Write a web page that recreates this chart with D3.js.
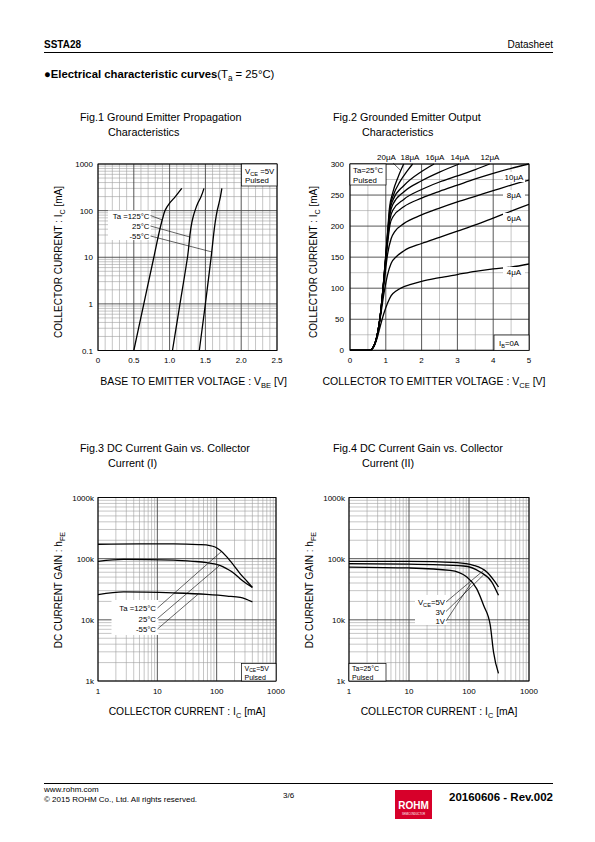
<!DOCTYPE html>
<html><head><meta charset="utf-8">
<script src="https://cdnjs.cloudflare.com/ajax/libs/d3/7.8.5/d3.min.js"></script>
<style>
body{margin:0;background:#fff}
svg{display:block}
text{font-family:"Liberation Sans",Arial,sans-serif;fill:#000}
</style>
</head><body>
<svg id="page" width="595" height="842"></svg>
<script>
// ---------------- DATA ----------------
// Fig.1 Ground emitter propagation characteristics (Ic in mA vs Vbe in V)
const fig1Ic      = [0.1, 1, 10, 75, 100, 145, 200, 300];
const fig1Vbe125  = [0.50, 0.64, 0.78, 0.91, 0.935, 1.00, 1.08, 1.17];
const fig1Vbe25   = [1.04, 1.145, 1.25, 1.33, 1.355, 1.395, 1.44, 1.48];
const fig1VbeM55  = [1.415, 1.50, 1.58, 1.65, 1.665, 1.69, 1.71, 1.73];
const fig1Labels  = ["Ta =125°C", "25°C", "-55°C"];
const fig1LeaderIc = [63, 27, 13];
const fig1XTicks  = [0, 0.5, 1.0, 1.5, 2.0, 2.5];
const fig1XTickLabels = ["0", "0.5", "1.0", "1.5", "2.0", "2.5"];
const fig1YTicks  = [0.1, 1, 10, 100, 1000];
const fig1YTickLabels = ["0.1", "1", "10", "100", "1000"];

// Fig.2 Grounded emitter output characteristics (Ic mA vs Vce V)
const fig2IbLabels = ["4μA", "6μA", "8μA", "10μA", "12μA", "14μA", "16μA", "18μA", "20μA"];
const fig2V4  = [0,0.55,0.65,0.75,0.85,0.95,1.05,1.15,1.3,1.45,1.7,2,2.5,3,3.5,4,4.5,5];
const fig2I4  = [0,0,4,18,40,60,76,88,96,101,106,111,117,122,127,131,134,139];
const fig2V6  = [0,0.55,0.65,0.75,0.85,0.95,1.05,1.15,1.3,1.5,2,2.5,3,3.5,4,4.5,5];
const fig2I6  = [0,0,5,21,54,92,122,140,151,160,172,182,192,202,213,224,235];
const fig2V8  = [0,0.55,0.65,0.75,0.85,0.95,1.05,1.15,1.25,1.5,2,2.5,3,3.5,4,4.5,5];
const fig2I8  = [0,0,5,22,57,108,155,180,191,204,218,229,239,248,257,266,274];
const fig2V10 = [0,0.55,0.65,0.75,0.85,0.95,1.05,1.12,1.2,1.5,2,2.5,3,3.5,4,4.5,5];
const fig2I10 = [0,0,5,22,58,113,172,203,215,231,245,256,266,276,285,293,300];
const fig2V12 = [0,0.55,0.65,0.75,0.85,0.95,1.05,1.12,1.2,1.5,2,2.5,3,3.5,3.9];
const fig2I12 = [0,0,5,22,58,115,178,212,226,243,259,271,281,291,300];
const fig2V14 = [0,0.55,0.65,0.75,0.85,0.95,1.05,1.12,1.2,1.5,2,2.5,3.05];
const fig2I14 = [0,0,5,22,58,116,182,220,235,255,273,287,300];
const fig2V16 = [0,0.55,0.65,0.75,0.85,0.95,1.05,1.12,1.2,1.5,2,2.35];
const fig2I16 = [0,0,5,22,58,117,185,226,242,265,288,300];
const fig2V18 = [0,0.55,0.65,0.75,0.85,0.95,1.05,1.12,1.2,1.4,1.6,1.75];
const fig2I18 = [0,0,5,22,58,118,188,231,248,272,289,300];
const fig2V20 = [0,0.55,0.65,0.75,0.85,0.95,1.05,1.1,1.2,1.35,1.5];
const fig2I20 = [0,0,5,22,58,119,190,228,255,280,300];
const fig2XTicks = [0, 1, 2, 3, 4, 5];
const fig2YTicks = [0, 50, 100, 150, 200, 250, 300];

// Fig.3 DC current gain vs collector current (I) - temperature
const fig3Ic125  = [1, 5, 18.6, 50, 77, 94, 113, 147, 190, 248, 330, 400];
const fig3Hfe125 = [172e3, 175e3, 175e3, 170e3, 164e3, 155e3, 138e3, 108e3, 80e3, 57e3, 42e3, 34e3];
const fig3Ic25   = [1, 2.7, 18.6, 40, 68, 113, 147, 190, 248, 320, 400];
const fig3Hfe25  = [90.6e3, 97.5e3, 95e3, 90.6e3, 86e3, 77.8e3, 68.6e3, 59e3, 47e3, 39e3, 34e3];
const fig3IcM55  = [1, 2.7, 18.6, 68, 150, 250, 400];
const fig3HfeM55 = [25.9e3, 28.6e3, 27.5e3, 26e3, 24.5e3, 23.2e3, 19.6e3];
const fig3Labels = ["Ta =125°C", "25°C", "-55°C"];
const fig3LeaderIc = [120, 113, 49];

// Fig.4 DC current gain vs collector current (II) - Vce
const fig4Ic5  = [1, 10, 63, 119, 198, 270, 310];
const fig4Hfe5 = [90.5e3, 90.5e3, 86e3, 77.8e3, 60.5e3, 42e3, 34.4e3];
const fig4Ic3  = [1, 10, 81, 154, 240, 310];
const fig4Hfe3 = [83e3, 81.5e3, 75.9e3, 60.5e3, 41.5e3, 25.2e3];
const fig4Ic1  = [1, 10, 48.6, 92, 134, 175, 226, 256, 310];
const fig4Hfe1 = [73e3, 70.5e3, 64.3e3, 50e3, 32.4e3, 17.3e3, 8.2e3, 3.0e3, 1.33e3];
const fig4LeaderIc = [175, 175, 110];

const hfeTicks = [1e3, 1e4, 1e5, 1e6];
const hfeTickLabels = ["1k", "10k", "100k", "1000k"];
const icTicks = [1, 10, 100, 1000];
const icTickLabels = ["1", "10", "100", "1000"];

// ---------------- HELPERS ----------------
const svg = d3.select("#page");
svg.append("rect").attr("width", 595).attr("height", 842).attr("fill", "#fff");

function rich(parent, x, y, parts, o) {
  const size = o.size || 10;
  const sh = o.shift != null ? o.shift : 0.28;
  const t = parent.append("text").attr("x", x).attr("y", y)
    .attr("font-size", size).attr("text-anchor", o.anchor || "start");
  if (o.weight) t.attr("font-weight", o.weight);
  if (o.rotate) t.attr("transform", `rotate(-90 ${x} ${y})`);
  let shifted = false;
  parts.forEach(p => {
    const [s, kind] = typeof p === "string" ? [p, null] : p;
    const ts = t.append("tspan").text(s);
    if (kind === "sub") {
      ts.attr("font-size", size * 0.72);
      if (!shifted) ts.attr("dy", size * sh);
      shifted = true;
    } else {
      if (shifted) ts.attr("dy", -size * sh);
      shifted = false;
      if (kind === "b") ts.attr("font-weight", "bold");
    }
  });
  return t;
}

function gridLines(g, x, y, vx, vy) {
  const [x0, x1] = x.range(); const [y0, y1] = y.range();
  const minor = g.append("g"), major = g.append("g");
  vx.forEach(d => (d.major ? major : minor).append("line")
    .attr("x1", x(d.v)).attr("x2", x(d.v)).attr("y1", y0).attr("y2", y1)
    .attr("stroke", d.major ? "#444" : "#a0a0a0").attr("stroke-width", d.major ? 0.9 : 0.6));
  vy.forEach(d => (d.major ? major : minor).append("line")
    .attr("x1", x0).attr("x2", x1).attr("y1", y(d.v)).attr("y2", y(d.v))
    .attr("stroke", d.major ? "#444" : "#a0a0a0").attr("stroke-width", d.major ? 0.9 : 0.6));
  g.append("rect").attr("x", Math.min(x0, x1)).attr("y", Math.min(y0, y1))
    .attr("width", Math.abs(x1 - x0)).attr("height", Math.abs(y1 - y0))
    .attr("fill", "none").attr("stroke", "#000").attr("stroke-width", 0.9);
}
function logGrid(domain) {
  const out = [];
  for (let d = domain[0]; d < domain[1] * 0.999; d *= 10)
    for (let k = 1; k <= 9; k++) out.push({ v: d * k, major: k === 1 });
  out.push({ v: domain[1], major: true });
  return out;
}
function interpLog(xs, ys, xv, logX, logY) {
  const fx = logX ? Math.log10 : (v => v), fy = logY ? Math.log10 : (v => v);
  const gy = logY ? (v => Math.pow(10, v)) : (v => v);
  for (let i = 0; i < xs.length - 1; i++) {
    if (xv >= xs[i] && xv <= xs[i + 1]) {
      const t = (fx(xv) - fx(xs[i])) / (fx(xs[i + 1]) - fx(xs[i]));
      return gy(fy(ys[i]) + t * (fy(ys[i + 1]) - fy(ys[i])));
    }
  }
  return ys[ys.length - 1];
}
const curveStroke = 1.3;

// ---------------- PAGE HEADER ----------------
rich(svg, 44, 48, [["SSTA28", "b"]], { size: 10 });
rich(svg, 553, 48, ["Datasheet"], { size: 10, anchor: "end" });
svg.append("line").attr("x1", 44).attr("x2", 553).attr("y1", 52.5).attr("y2", 52.5).attr("stroke", "#000").attr("stroke-width", 1);
rich(svg, 44, 77.5, [["●", "b"], ["Electrical characteristic curves", "b"], "(T", ["a", "sub"], " = 25°C)"], { size: 11.3 });

// ---------------- FIG.1 ----------------
{
  const g = svg.append("g");
  const x = d3.scaleLinear().domain([0, 2.5]).range([98, 277]);
  const y = d3.scaleLog().domain([0.1, 1000]).range([350.5, 164]);
  const vx = d3.range(0, 26).map(i => ({ v: i / 10, major: i % 5 === 0 }));
  gridLines(g, x, y, vx, logGrid([0.1, 1000]));
  rich(g, 80, 121, ["Fig.1 Ground Emitter Propagation"], { size: 10.8 });
  rich(g, 108, 136, ["Characteristics"], { size: 10.8 });
  fig1YTicks.forEach((v, i) => rich(g, 93, y(v) + 3, [fig1YTickLabels[i]], { size: 8, anchor: "end" }));
  fig1XTicks.forEach((v, i) => rich(g, x(v), 363, [fig1XTickLabels[i]], { size: 8, anchor: "middle" }));
  rich(g, 193.5, 385, ["BASE TO EMITTER VOLTAGE : V", ["BE", "sub"], " [V]"], { size: 10.5, anchor: "middle" });
  rich(g, 62, 262, ["COLLECTOR CURRENT : I", ["C", "sub"], " [mA]"], { size: 10, anchor: "middle", rotate: true });
  const line = d3.line().x(d => x(d[0])).y(d => y(d[1])).curve(d3.curveMonotoneY);
  const series = [fig1Vbe125, fig1Vbe25, fig1VbeM55];
  series.forEach(vs => g.append("path").attr("d", line(vs.map((v, i) => [v, fig1Ic[i]])))
    .attr("fill", "none").attr("stroke", "#000").attr("stroke-width", curveStroke));
  g.append("rect").attr("x", 108).attr("y", 210.5).attr("width", 43).attr("height", 29.5).attr("fill", "#fff");
  const ly = [218.5, 229, 239];
  fig1Labels.forEach((s, i) => rich(g, 149.5, ly[i], [s], { size: 7.8, anchor: "end" }));
  fig1LeaderIc.forEach((ic, i) => {
    const vbe = interpLog(fig1Ic, series[i], ic, true, false);
    g.append("line").attr("x1", 150.5).attr("y1", ly[i] - 3).attr("x2", x(vbe)).attr("y2", y(ic))
      .attr("stroke", "#000").attr("stroke-width", 0.6);
  });
  g.append("rect").attr("x", 241.5).attr("y", 164).attr("width", 35.5).attr("height", 22).attr("fill", "#fff").attr("stroke", "#000").attr("stroke-width", 0.7);
  rich(g, 245, 173.5, ["V", ["CE", "sub"], " =5V"], { size: 7.8 });
  rich(g, 245, 183, ["Pulsed"], { size: 7.8 });
}

// ---------------- FIG.2 ----------------
{
  const g = svg.append("g");
  const x = d3.scaleLinear().domain([0, 5]).range([350, 529]);
  const y = d3.scaleLinear().domain([0, 300]).range([350.3, 164]);
  const vx = d3.range(0, 11).map(i => ({ v: i / 2, major: i % 2 === 0 }));
  const vy = d3.range(0, 13).map(i => ({ v: i * 25, major: i % 2 === 0 }));
  gridLines(g, x, y, vx, vy);
  rich(g, 333, 121, ["Fig.2 Grounded Emitter Output"], { size: 10.8 });
  rich(g, 362, 136, ["Characteristics"], { size: 10.8 });
  fig2YTicks.forEach(v => rich(g, 344, y(v) + 3, [String(v)], { size: 8, anchor: "end" }));
  fig2XTicks.forEach(v => rich(g, x(v), 363, [String(v)], { size: 8, anchor: "middle" }));
  rich(g, 434, 385, ["COLLECTOR TO EMITTER VOLTAGE : V", ["CE", "sub"], " [V]"], { size: 10.5, anchor: "middle" });
  rich(g, 317, 262, ["COLLECTOR CURRENT : I", ["C", "sub"], " [mA]"], { size: 10, anchor: "middle", rotate: true });
  const line = d3.line().x(d => x(d[0])).y(d => y(d[1])).curve(d3.curveMonotoneX);
  const Vs = [fig2V4, fig2V6, fig2V8, fig2V10, fig2V12, fig2V14, fig2V16, fig2V18, fig2V20];
  const Is = [fig2I4, fig2I6, fig2I8, fig2I10, fig2I12, fig2I14, fig2I16, fig2I18, fig2I20];
  g.append("clipPath").attr("id", "c2").append("rect").attr("x", 350).attr("y", 163).attr("width", 179).attr("height", 188);
  Vs.forEach((vs, k) => g.append("path").attr("clip-path", "url(#c2)")
    .attr("d", line(vs.map((v, i) => [v, Is[k][i]])))
    .attr("fill", "none").attr("stroke", "#000").attr("stroke-width", curveStroke));
  const rightY = [275, 221, 198, 180];
  [0, 1, 2, 3].forEach((k, j) => {
    g.append("rect").attr("x", 503).attr("y", rightY[j] - 8).attr("width", 22).attr("height", 10).attr("fill", "#fff");
    rich(g, 514, rightY[j], [fig2IbLabels[k]], { size: 8, anchor: "middle" });
  });
  const topX = [490, 460, 435, 410, 386.5];
  [4, 5, 6, 7, 8].forEach((k, j) => rich(g, topX[j], 160, [fig2IbLabels[k]], { size: 8, anchor: "middle" }));
  const i20 = interpLog(fig2V20, fig2I20, 1.42, false, false);
  g.append("line").attr("x1", 393).attr("y1", 163).attr("x2", x(1.42)).attr("y2", y(i20)).attr("stroke", "#000").attr("stroke-width", 0.6);
  g.append("rect").attr("x", 350).attr("y", 164).attr("width", 36).attr("height", 21).attr("fill", "#fff").attr("stroke", "#000").attr("stroke-width", 0.7);
  rich(g, 353, 173, ["Ta=25°C"], { size: 7.8 });
  rich(g, 353, 182.5, ["Pulsed"], { size: 7.8 });
  g.append("rect").attr("x", 494).attr("y", 335).attr("width", 35).attr("height", 15.3).attr("fill", "#fff").attr("stroke", "#000").attr("stroke-width", 0.7);
  rich(g, 499, 345.5, ["I", ["B", "sub"], "=0A"], { size: 7.8 });
}

// ---------------- FIG.3 / FIG.4 common ----------------
function hfeChart(x0, x1, title1, title2, tx, tx2) {
  const g = svg.append("g");
  const x = d3.scaleLog().domain([1, 1000]).range([x0, x1]);
  const y = d3.scaleLog().domain([1e3, 1e6]).range([681, 497.5]);
  gridLines(g, x, y, logGrid([1, 1000]), logGrid([1e3, 1e6]));
  rich(g, tx, 452, [title1], { size: 10.8 });
  rich(g, tx2, 467, [title2], { size: 10.8 });
  hfeTicks.forEach((v, i) => rich(g, x0 - 4, y(v) + 3, [hfeTickLabels[i]], { size: 8, anchor: "end" }));
  icTicks.forEach((v, i) => rich(g, x(v), 694, [icTickLabels[i]], { size: 8, anchor: "middle" }));
  rich(g, (x0 + x1) / 2, 715, ["COLLECTOR CURRENT : I", ["C", "sub"], " [mA]"], { size: 10.3, anchor: "middle" });
  rich(g, x0 - 36, 590, ["DC CURRENT GAIN : h", ["FE", "sub"]], { size: 10, anchor: "middle", rotate: true });
  return { g, x, y };
}

// ---------------- FIG.3 ----------------
{
  const { g, x, y } = hfeChart(98, 276, "Fig.3 DC Current Gain vs. Collector", "Current (I)", 80, 108);
  const line = d3.line().x(d => x(d[0])).y(d => y(d[1])).curve(d3.curveMonotoneX);
  const ics = [fig3Ic125, fig3Ic25, fig3IcM55], hs = [fig3Hfe125, fig3Hfe25, fig3HfeM55];
  ics.forEach((ic, k) => g.append("path").attr("d", line(ic.map((c, i) => [c, hs[k][i]])))
    .attr("fill", "none").attr("stroke", "#000").attr("stroke-width", curveStroke));
  g.append("rect").attr("x", 111.5).attr("y", 600).attr("width", 47).attr("height", 35).attr("fill", "#fff");
  const ly = [611, 621.5, 632];
  fig3Labels.forEach((s, i) => rich(g, 156, ly[i], [s], { size: 7.8, anchor: "end" }));
  fig3LeaderIc.forEach((ic, i) => {
    const h = interpLog(ics[i], hs[i], ic, true, true);
    g.append("line").attr("x1", 157.5).attr("y1", ly[i] - 3).attr("x2", x(ic)).attr("y2", y(h))
      .attr("stroke", "#000").attr("stroke-width", 0.6);
  });
  g.append("rect").attr("x", 241.5).attr("y", 663.5).attr("width", 34.5).attr("height", 17.5).attr("fill", "#fff").attr("stroke", "#000").attr("stroke-width", 0.7);
  rich(g, 244.5, 670.5, ["V", ["CE", "sub"], "=5V"], { size: 7, shift: 0.18 });
  rich(g, 244.5, 679.8, ["Pulsed"], { size: 7 });
}

// ---------------- FIG.4 ----------------
{
  const { g, x, y } = hfeChart(349, 529, "Fig.4 DC Current Gain vs. Collector", "Current (II)", 333, 362);
  const line = d3.line().x(d => x(d[0])).y(d => y(d[1])).curve(d3.curveMonotoneX);
  const ics = [fig4Ic5, fig4Ic3, fig4Ic1], hs = [fig4Hfe5, fig4Hfe3, fig4Hfe1];
  ics.forEach((ic, k) => g.append("path").attr("d", line(ic.map((c, i) => [c, hs[k][i]])))
    .attr("fill", "none").attr("stroke", "#000").attr("stroke-width", curveStroke));
  g.append("rect").attr("x", 415).attr("y", 595).attr("width", 32).attr("height", 30).attr("fill", "#fff");
  const ly = [605, 614.5, 624];
  rich(g, 445, ly[0], ["V", ["CE", "sub"], "=5V"], { size: 7.8, anchor: "end" });
  rich(g, 445, ly[1], ["3V"], { size: 7.8, anchor: "end" });
  rich(g, 445, ly[2], ["1V"], { size: 7.8, anchor: "end" });
  fig4LeaderIc.forEach((ic, i) => {
    const h = interpLog(ics[i], hs[i], ic, true, true);
    g.append("line").attr("x1", 446).attr("y1", ly[i] - 3).attr("x2", x(ic)).attr("y2", y(h))
      .attr("stroke", "#000").attr("stroke-width", 0.6);
  });
  g.append("rect").attr("x", 349).attr("y", 663.5).attr("width", 37).attr("height", 17.5).attr("fill", "#fff").attr("stroke", "#000").attr("stroke-width", 0.7);
  rich(g, 352, 670.5, ["Ta=25°C"], { size: 7 });
  rich(g, 352, 679.8, ["Pulsed"], { size: 7 });
}

// ---------------- FOOTER ----------------
svg.append("line").attr("x1", 44).attr("x2", 553).attr("y1", 783.5).attr("y2", 783.5).attr("stroke", "#000").attr("stroke-width", 1);
rich(svg, 44, 792, ["www.rohm.com"], { size: 8 });
rich(svg, 44, 802, ["© 2015 ROHM Co., Ltd. All rights reserved."], { size: 8 });
rich(svg, 283, 798, ["3/6"], { size: 8 });
svg.append("rect").attr("x", 395).attr("y", 790).attr("width", 37).attr("height", 29).attr("fill", "#d7002a");
rich(svg, 413.5, 809, [["ROHM", "b"]], { size: 10, anchor: "middle" }).style("fill", "#fff");
rich(svg, 413.5, 814.5, ["SEMICONDUCTOR"], { size: 2.6, anchor: "middle" }).style("fill", "#fff");
rich(svg, 553, 800.5, [["20160606 - Rev.002", "b"]], { size: 11.5, anchor: "end" });
</script>
</body></html>
